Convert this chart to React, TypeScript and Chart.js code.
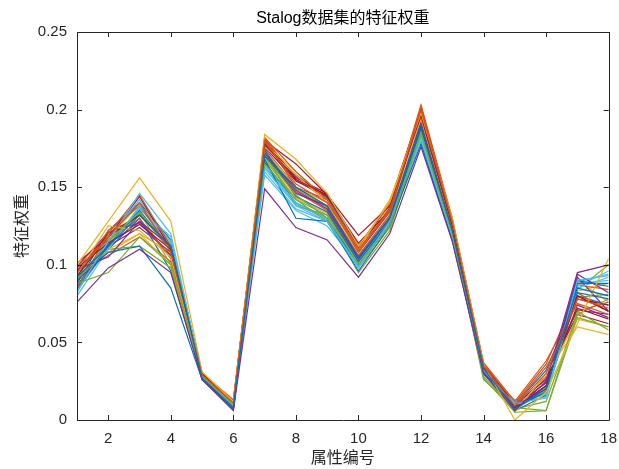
import React, { useEffect, useRef } from "react";
import { Chart, registerables } from "chart.js";

Chart.register(...registerables);

const titleText = "Stalog数据集的特征权重";
const xTitle = "属性编号";
const yTitle = "特征权重";
const attributes = [1, 2, 3, 4, 5, 6, 7, 8, 9, 10, 11, 12, 13, 14, 15, 16, 17, 18];
const xTicks = [2, 4, 6, 8, 10, 12, 14, 16, 18];
const yTicks = [0, 0.05, 0.1, 0.15, 0.2, 0.25];
const palette = ["#0072BD", "#D95319", "#EDB120", "#7E2F8E", "#77AC30", "#4DBEEE", "#A2142F"];

const s1 = [0.092, 0.112, 0.132, 0.112, 0.027, 0.008, 0.170, 0.150, 0.138, 0.105, 0.130, 0.190, 0.122, 0.033, 0.007, 0.020, 0.085, 0.080];
const s2 = [0.095, 0.118, 0.140, 0.108, 0.029, 0.011, 0.180, 0.152, 0.140, 0.110, 0.135, 0.200, 0.128, 0.035, 0.009, 0.030, 0.078, 0.072];
const s3 = [0.100, 0.128, 0.156, 0.128, 0.031, 0.012, 0.184, 0.168, 0.146, 0.112, 0.140, 0.198, 0.130, 0.036, 0.000, 0.018, 0.062, 0.104];
const s4 = [0.076, 0.098, 0.110, 0.095, 0.026, 0.006, 0.149, 0.124, 0.116, 0.092, 0.120, 0.176, 0.115, 0.030, 0.006, 0.025, 0.095, 0.100];
const s5 = [0.088, 0.095, 0.118, 0.100, 0.028, 0.009, 0.165, 0.142, 0.132, 0.100, 0.125, 0.185, 0.120, 0.027, 0.005, 0.006, 0.070, 0.058];
const s6 = [0.083, 0.115, 0.146, 0.120, 0.028, 0.010, 0.162, 0.138, 0.128, 0.098, 0.128, 0.182, 0.118, 0.032, 0.010, 0.015, 0.090, 0.093];
const s7 = [0.098, 0.114, 0.126, 0.110, 0.030, 0.010, 0.178, 0.155, 0.145, 0.119, 0.138, 0.196, 0.125, 0.034, 0.008, 0.022, 0.080, 0.070];
const s8 = [0.090, 0.108, 0.112, 0.085, 0.026, 0.007, 0.168, 0.130, 0.128, 0.096, 0.125, 0.178, 0.116, 0.030, 0.008, 0.018, 0.088, 0.088];
const s9 = [0.085, 0.120, 0.145, 0.112, 0.030, 0.012, 0.182, 0.160, 0.142, 0.108, 0.136, 0.203, 0.130, 0.037, 0.012, 0.038, 0.075, 0.068];
const s10 = [0.094, 0.125, 0.122, 0.105, 0.029, 0.011, 0.176, 0.158, 0.140, 0.110, 0.142, 0.194, 0.126, 0.034, 0.005, 0.030, 0.060, 0.055];
const s11 = [0.097, 0.105, 0.128, 0.112, 0.027, 0.007, 0.172, 0.148, 0.136, 0.104, 0.130, 0.190, 0.120, 0.031, 0.009, 0.020, 0.094, 0.082];
const s12 = [0.090, 0.115, 0.134, 0.110, 0.028, 0.008, 0.170, 0.145, 0.130, 0.095, 0.122, 0.184, 0.119, 0.026, 0.008, 0.006, 0.066, 0.060];
const s13 = [0.080, 0.110, 0.138, 0.115, 0.027, 0.009, 0.158, 0.135, 0.125, 0.100, 0.126, 0.180, 0.117, 0.029, 0.011, 0.014, 0.085, 0.092];
const s14 = [0.093, 0.118, 0.144, 0.110, 0.029, 0.010, 0.176, 0.154, 0.144, 0.114, 0.135, 0.198, 0.127, 0.035, 0.010, 0.026, 0.072, 0.065];
const s15 = [0.087, 0.112, 0.135, 0.110, 0.026, 0.008, 0.174, 0.144, 0.134, 0.102, 0.128, 0.188, 0.121, 0.032, 0.006, 0.016, 0.082, 0.078];
const s16 = [0.099, 0.116, 0.130, 0.104, 0.030, 0.013, 0.181, 0.150, 0.138, 0.106, 0.132, 0.201, 0.129, 0.036, 0.010, 0.034, 0.070, 0.076];
const s17 = [0.091, 0.110, 0.120, 0.100, 0.028, 0.010, 0.178, 0.160, 0.142, 0.108, 0.138, 0.196, 0.124, 0.033, 0.007, 0.028, 0.065, 0.060];
const s18 = [0.084, 0.112, 0.124, 0.108, 0.027, 0.007, 0.170, 0.146, 0.138, 0.104, 0.130, 0.192, 0.122, 0.032, 0.009, 0.024, 0.092, 0.070];
const s19 = [0.095, 0.110, 0.112, 0.098, 0.028, 0.009, 0.168, 0.142, 0.128, 0.098, 0.124, 0.186, 0.120, 0.028, 0.007, 0.012, 0.068, 0.078];
const s20 = [0.082, 0.118, 0.142, 0.112, 0.028, 0.011, 0.164, 0.140, 0.130, 0.102, 0.130, 0.184, 0.118, 0.030, 0.012, 0.018, 0.086, 0.096];
const s21 = [0.101, 0.118, 0.132, 0.112, 0.030, 0.011, 0.180, 0.156, 0.146, 0.112, 0.140, 0.200, 0.128, 0.035, 0.009, 0.024, 0.078, 0.074];
const s22 = [0.086, 0.110, 0.130, 0.096, 0.027, 0.008, 0.166, 0.140, 0.130, 0.100, 0.126, 0.184, 0.119, 0.031, 0.007, 0.022, 0.090, 0.086];
const s23 = [0.092, 0.122, 0.138, 0.110, 0.029, 0.012, 0.182, 0.155, 0.142, 0.110, 0.134, 0.202, 0.128, 0.036, 0.011, 0.036, 0.082, 0.070];
const s24 = [0.095, 0.108, 0.120, 0.108, 0.028, 0.008, 0.174, 0.150, 0.140, 0.106, 0.132, 0.194, 0.123, 0.032, 0.008, 0.022, 0.090, 0.076];
const s25 = [0.089, 0.113, 0.128, 0.106, 0.029, 0.010, 0.175, 0.150, 0.142, 0.108, 0.134, 0.197, 0.125, 0.034, 0.008, 0.020, 0.074, 0.066];
const s26 = [0.084, 0.116, 0.134, 0.100, 0.027, 0.009, 0.172, 0.138, 0.132, 0.103, 0.130, 0.188, 0.121, 0.031, 0.009, 0.018, 0.084, 0.100];
const s27 = [0.090, 0.112, 0.136, 0.118, 0.028, 0.010, 0.160, 0.136, 0.128, 0.100, 0.128, 0.182, 0.118, 0.030, 0.013, 0.016, 0.088, 0.090];
const s28 = [0.096, 0.120, 0.132, 0.112, 0.030, 0.012, 0.180, 0.165, 0.145, 0.112, 0.136, 0.199, 0.129, 0.035, 0.008, 0.028, 0.068, 0.062];
const s29 = [0.088, 0.122, 0.140, 0.116, 0.029, 0.011, 0.177, 0.158, 0.143, 0.109, 0.137, 0.199, 0.127, 0.035, 0.010, 0.032, 0.080, 0.074];
const s30 = [0.094, 0.106, 0.118, 0.102, 0.027, 0.008, 0.171, 0.147, 0.135, 0.103, 0.129, 0.189, 0.121, 0.031, 0.007, 0.019, 0.087, 0.084];
const s31 = [0.086, 0.117, 0.139, 0.114, 0.028, 0.010, 0.169, 0.143, 0.133, 0.101, 0.127, 0.187, 0.120, 0.030, 0.010, 0.017, 0.083, 0.088];
const s32 = [0.099, 0.121, 0.127, 0.106, 0.030, 0.012, 0.179, 0.157, 0.144, 0.111, 0.139, 0.197, 0.127, 0.034, 0.009, 0.027, 0.071, 0.068];
const s33 = [0.091, 0.114, 0.133, 0.109, 0.028, 0.009, 0.173, 0.149, 0.137, 0.105, 0.131, 0.191, 0.122, 0.032, 0.008, 0.021, 0.079, 0.081];
const s34 = [0.083, 0.111, 0.137, 0.113, 0.027, 0.009, 0.163, 0.139, 0.129, 0.099, 0.127, 0.183, 0.118, 0.030, 0.011, 0.015, 0.089, 0.094];

const seriesList = [s1, s2, s3, s4, s5, s6, s7, s8, s9, s10, s11, s12, s13, s14, s15, s16, s17, s18, s19, s20, s21, s22, s23, s24, s25, s26, s27, s28, s29, s30, s31, s32, s33, s34];

const AXIS_COLOR = "#262626";
const FONT = "'Liberation Sans', Arial, 'Noto Sans CJK SC', sans-serif";

const boxPlugin = {
  id: "matlabBox",
  afterDraw(chart: any) {
    const { ctx, chartArea } = chart;
    const { left, right, top, bottom } = chartArea;
    const xs = chart.scales.x;
    const ys = chart.scales.y;
    ctx.save();
    ctx.strokeStyle = AXIS_COLOR;
    ctx.lineWidth = 1;
    ctx.beginPath();
    ctx.rect(Math.round(left) + 0.5, Math.round(top) + 0.5, Math.round(right - left), Math.round(bottom - top));
    ctx.stroke();
    const tl = 5;
    ctx.beginPath();
    xTicks.forEach((t) => {
      const px = Math.round(xs.getPixelForValue(t)) + 0.5;
      ctx.moveTo(px, bottom);
      ctx.lineTo(px, bottom - tl);
      ctx.moveTo(px, top);
      ctx.lineTo(px, top + tl);
    });
    yTicks.forEach((t) => {
      const py = Math.round(ys.getPixelForValue(t)) + 0.5;
      ctx.moveTo(left, py);
      ctx.lineTo(left + tl, py);
      ctx.moveTo(right, py);
      ctx.lineTo(right - tl, py);
    });
    ctx.stroke();
    ctx.fillStyle = "#000";
    ctx.textAlign = "center";
    ctx.textBaseline = "middle";
    ctx.font = "16px " + FONT;
    ctx.fillText(titleText, (left + right) / 2, 19);
    ctx.fillStyle = AXIS_COLOR;
    ctx.font = "16px 'Noto Sans CJK SC', sans-serif";
    ctx.fillText(xTitle, (left + right) / 2, 457);
    ctx.translate(21, (top + bottom) / 2);
    ctx.rotate(-Math.PI / 2);
    ctx.fillText(yTitle, 0, 0);
    ctx.restore();
  },
};

export default function App() {
  const ref = useRef<HTMLCanvasElement>(null);
  useEffect(() => {
    document.body.style.margin = "0";
    const canvas = ref.current;
    if (!canvas) return;
    const chart = new Chart(canvas, {
      type: "line",
      data: {
        datasets: seriesList.map((s, i) => ({
          label: "s" + (i + 1),
          data: attributes.map((a, j) => ({ x: a, y: s[j] })),
          borderColor: palette[i % palette.length],
          borderWidth: 1.2,
          pointRadius: 0,
          fill: false,
          tension: 0,
        })),
      },
      options: {
        animation: false,
        responsive: false,
        maintainAspectRatio: false,
        devicePixelRatio: 1,
        layout: { padding: { left: 0, right: 8, top: 32, bottom: 0 } },
        plugins: { legend: { display: false }, title: { display: false }, tooltip: { enabled: false } },
        scales: {
          x: {
            type: "linear",
            min: 1,
            max: 18,
            grid: { display: false },
            border: { display: false },
            afterBuildTicks: (scale: any) => {
              scale.ticks = xTicks.map((v) => ({ value: v }));
            },
            afterFit: (scale: any) => {
              scale.height = 49;
            },
            ticks: {
              color: AXIS_COLOR,
              font: { family: FONT, size: 15 },
              padding: 2,
              maxRotation: 0,
              autoSkip: false,
              callback: (v: any) => String(v),
            },
          },
          y: {
            type: "linear",
            min: 0,
            max: 0.25,
            grid: { display: false },
            border: { display: false },
            afterBuildTicks: (scale: any) => {
              scale.ticks = yTicks.map((v) => ({ value: v }));
            },
            afterFit: (scale: any) => {
              scale.width = 77;
            },
            ticks: {
              color: AXIS_COLOR,
              font: { family: FONT, size: 15 },
              padding: 2,
              autoSkip: false,
              callback: (v: any) => String(Number(Number(v).toFixed(2))),
            },
          },
        },
      },
      plugins: [boxPlugin],
    });
    return () => chart.destroy();
  }, []);
  return (
    <div style={{ position: "fixed", left: 0, top: 0, width: 619, height: 469, background: "#fff" }}>
      <canvas ref={ref} width={619} height={469} style={{ width: 619, height: 469 }} />
    </div>
  );
}
